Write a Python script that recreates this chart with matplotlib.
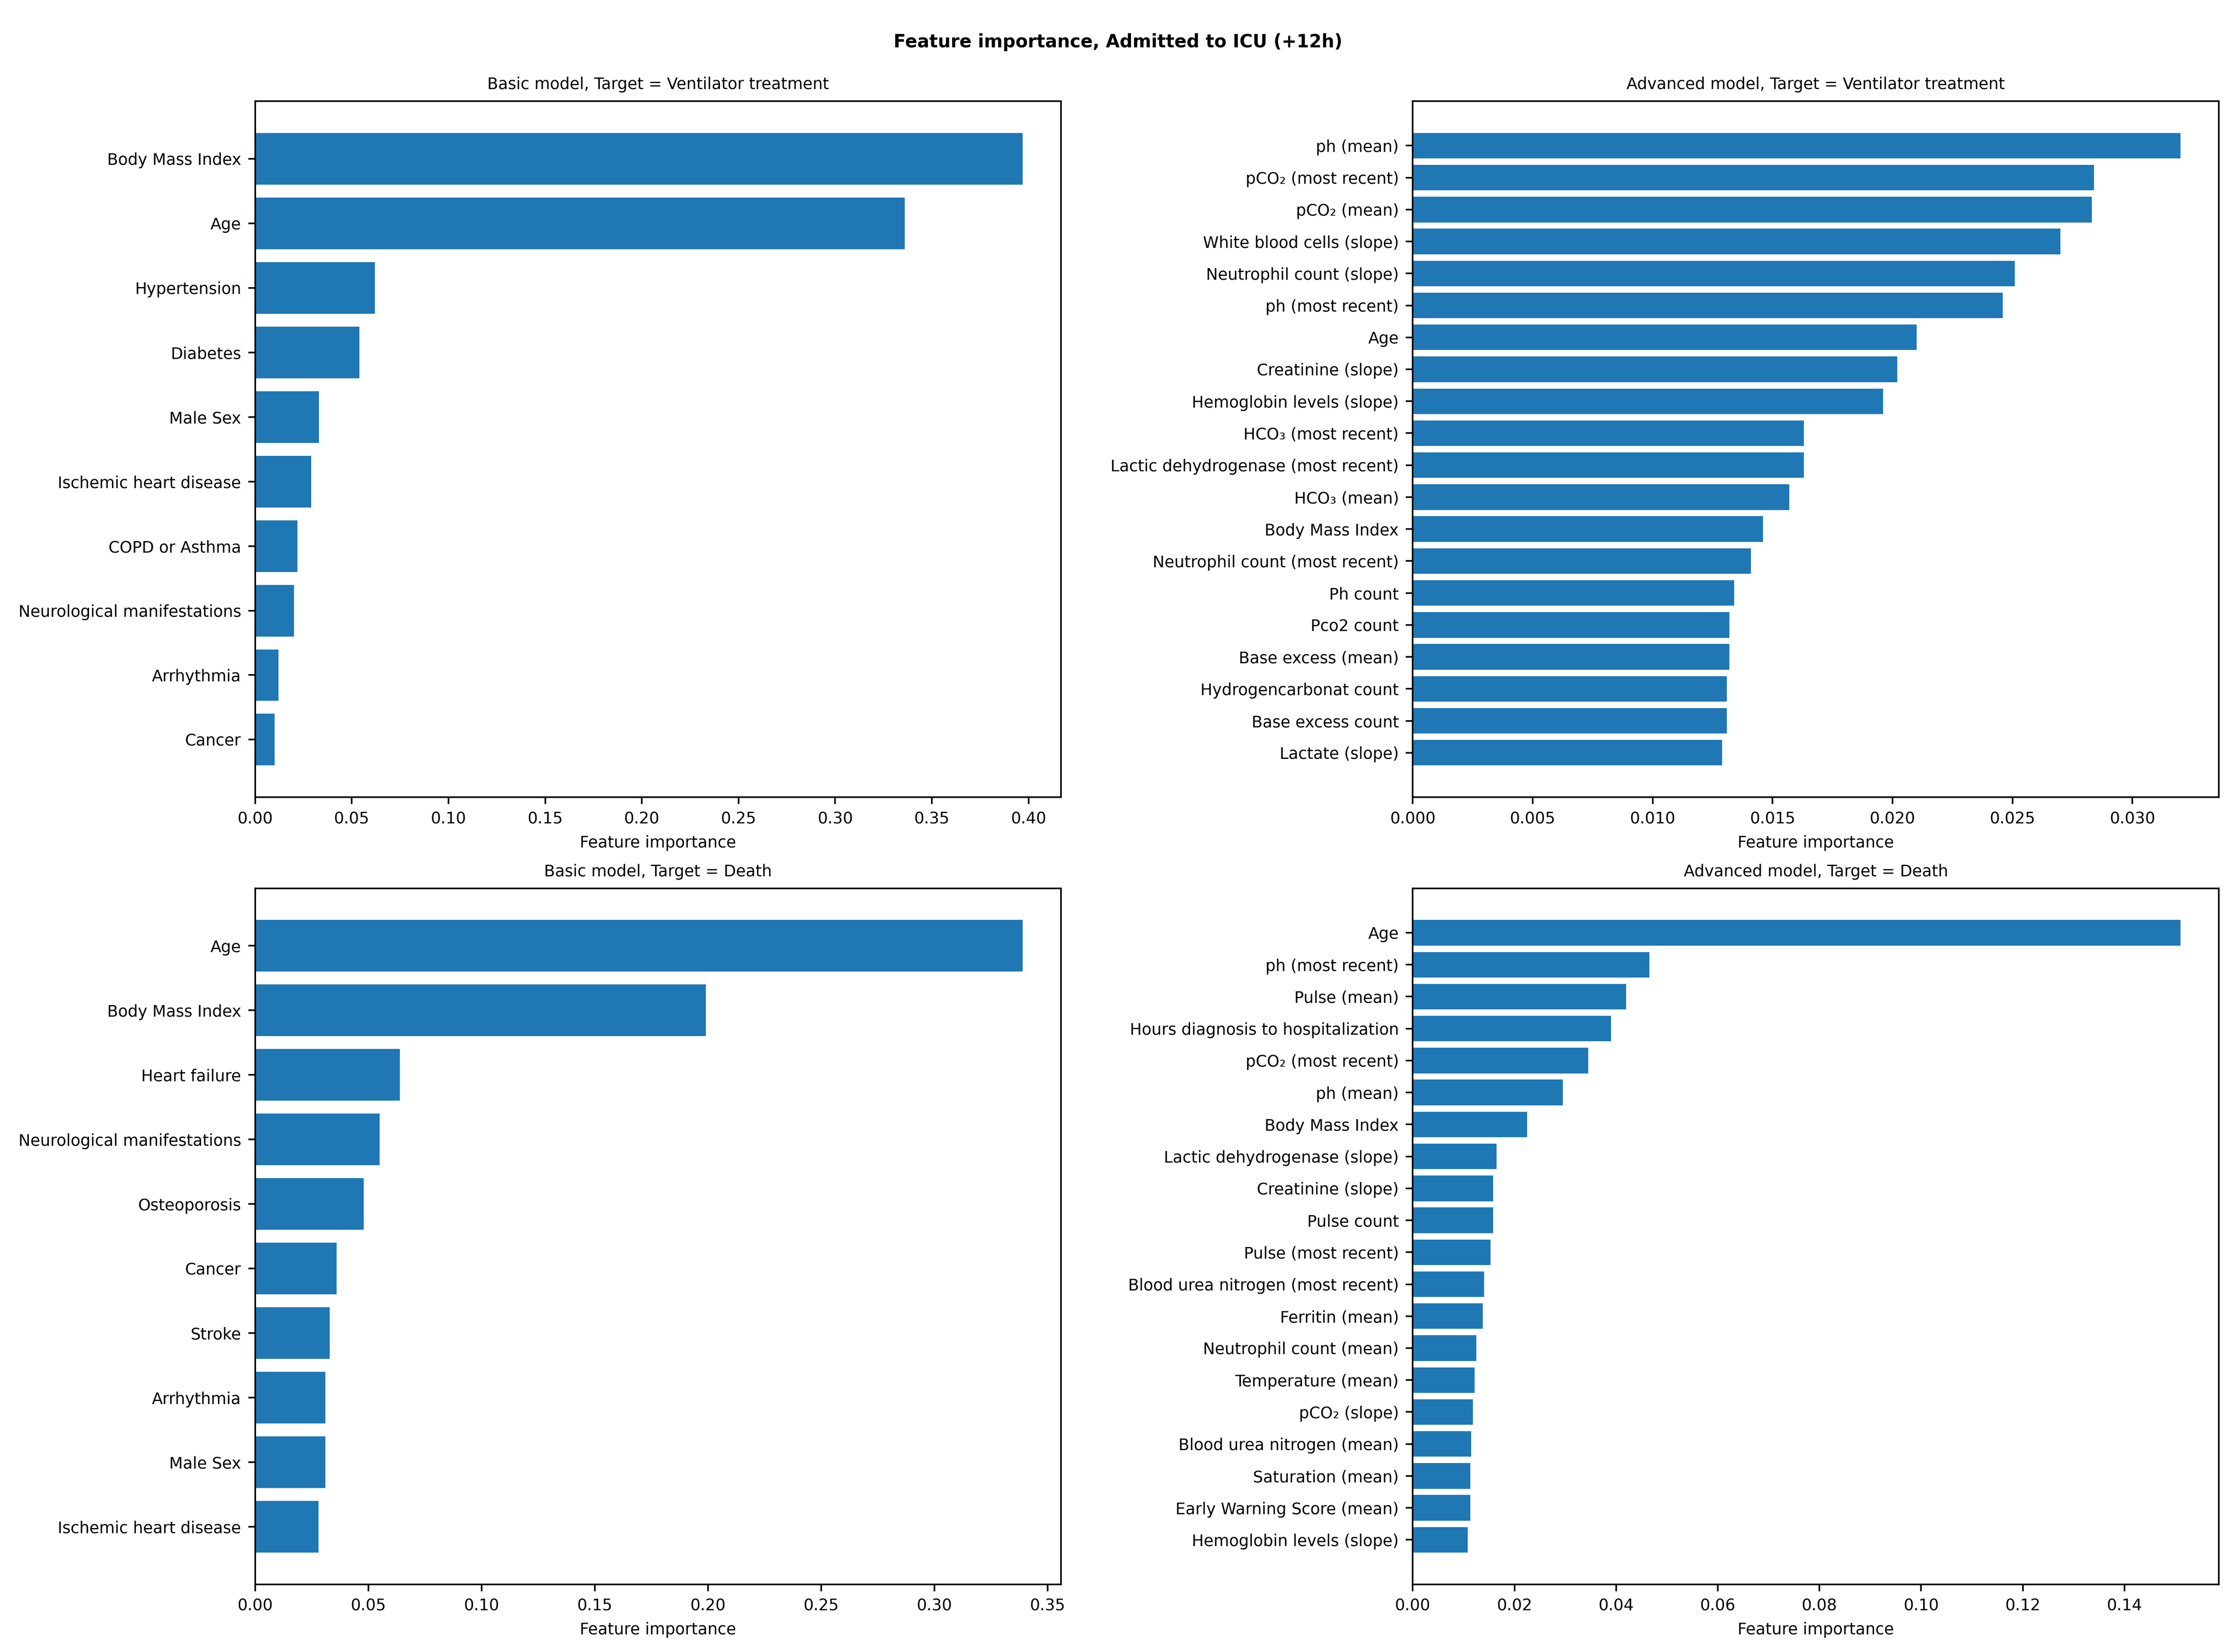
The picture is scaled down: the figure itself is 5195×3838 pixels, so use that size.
import matplotlib
matplotlib.use("Agg")
import matplotlib.pyplot as plt

# basic model, ventilator
basic_vent_names = ["Body Mass Index", "Age", "Hypertension", "Diabetes", "Male Sex",
                    "Ischemic heart disease", "COPD or Asthma", "Neurological manifestations",
                    "Arrhythmia", "Cancer"]
basic_vent_vals = [0.397, 0.336, 0.062, 0.054, 0.033, 0.029, 0.022, 0.020, 0.012, 0.010]

# advanced model, ventilator
adv_vent_names = ["ph (mean)", "pCO₂ (most recent)", "pCO₂ (mean)", "White blood cells (slope)",
                  "Neutrophil count (slope)", "ph (most recent)", "Age", "Creatinine (slope)",
                  "Hemoglobin levels (slope)", "HCO₃ (most recent)", "Lactic dehydrogenase (most recent)",
                  "HCO₃ (mean)", "Body Mass Index", "Neutrophil count (most recent)", "Ph count",
                  "Pco2 count", "Base excess (mean)", "Hydrogencarbonat count", "Base excess count",
                  "Lactate (slope)"]
adv_vent_vals = [0.0320, 0.0284, 0.0283, 0.0270, 0.0251, 0.0246, 0.0210, 0.0202, 0.0196, 0.0163,
                 0.0163, 0.0157, 0.0146, 0.0141, 0.0134, 0.0132, 0.0132, 0.0131, 0.0131, 0.0129]

# basic model, death
basic_death_names = ["Age", "Body Mass Index", "Heart failure", "Neurological manifestations",
                     "Osteoporosis", "Cancer", "Stroke", "Arrhythmia", "Male Sex",
                     "Ischemic heart disease"]
basic_death_vals = [0.339, 0.199, 0.064, 0.055, 0.048, 0.036, 0.033, 0.031, 0.031, 0.028]

# advanced model, death
adv_death_names = ["Age", "ph (most recent)", "Pulse (mean)", "Hours diagnosis to hospitalization",
                   "pCO₂ (most recent)", "ph (mean)", "Body Mass Index", "Lactic dehydrogenase (slope)",
                   "Creatinine (slope)", "Pulse count", "Pulse (most recent)",
                   "Blood urea nitrogen (most recent)", "Ferritin (mean)", "Neutrophil count (mean)",
                   "Temperature (mean)", "pCO₂ (slope)", "Blood urea nitrogen (mean)",
                   "Saturation (mean)", "Early Warning Score (mean)", "Hemoglobin levels (slope)"]
adv_death_vals = [0.151, 0.0465, 0.042, 0.039, 0.0345, 0.0295, 0.0225, 0.0165, 0.0158, 0.0158,
                  0.0153, 0.0140, 0.0138, 0.0125, 0.0122, 0.0118, 0.0115, 0.0113, 0.0113, 0.0108]

plt.rcParams['font.size'] = 8

fig, axes = plt.subplots(2, 2, figsize=(5195 / 333, 3838 / 333))
panels = [
    (axes[0, 0], basic_vent_names, basic_vent_vals, "Basic model, Target = Ventilator treatment"),
    (axes[0, 1], adv_vent_names, adv_vent_vals, "Advanced model, Target = Ventilator treatment"),
    (axes[1, 0], basic_death_names, basic_death_vals, "Basic model, Target = Death"),
    (axes[1, 1], adv_death_names, adv_death_vals, "Advanced model, Target = Death"),
]
for ax, names, vals, title in panels:
    ax.barh(names[::-1], vals[::-1], color="#1f77b4")
    ax.set_title(title, fontsize=8)
    ax.set_xlabel("Feature importance")
    ax.set_xlim(left=0)

fig.suptitle("Feature importance, Admitted to ICU (+12h)", fontsize=9, weight='bold')
fig.tight_layout(rect=[0, 0, 1, 0.985], w_pad=3)
fig.savefig("out.png", dpi=333)
